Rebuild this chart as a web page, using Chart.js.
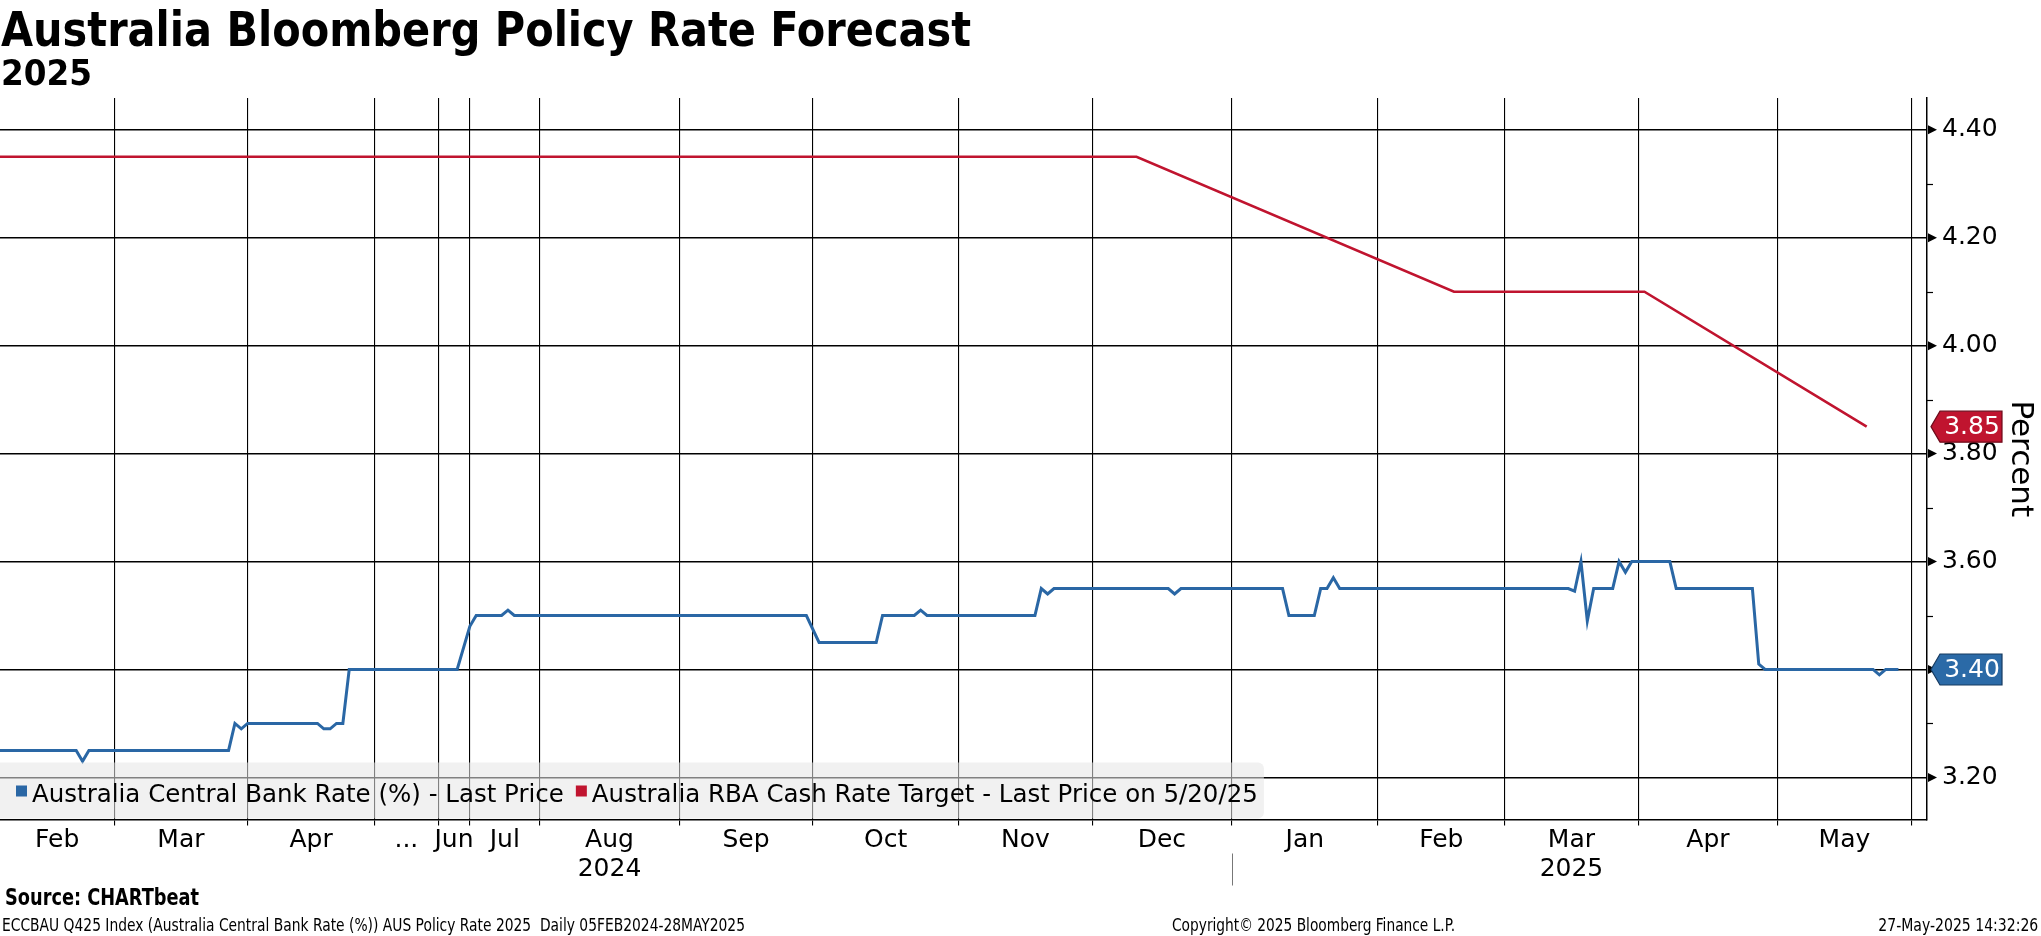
<!DOCTYPE html>
<html>
<head>
<meta charset="utf-8">
<script src="https://cdn.jsdelivr.net/npm/chart.js@4.4.1/dist/chart.umd.min.js"></script>
<style>
  html, body { margin: 0; padding: 0; background: #fff; }
  body { width: 2041px; height: 936px; position: relative; overflow: hidden; color: #000; font-family: "DejaVu Sans", sans-serif; }
  canvas { position: absolute; left: 0; top: 0; }
  .txt { position: absolute; white-space: nowrap; line-height: 1; transform-origin: left top; }
  #title { left: 1px; top: 5px; font-size: 48px; font-weight: bold; font-family: "DejaVu Sans Condensed", "DejaVu Sans", sans-serif; }
  #subtitle { left: 1px; top: 55px; font-size: 36px; font-weight: bold; font-family: "DejaVu Sans Condensed", "DejaVu Sans", sans-serif; }
  #source { left: 5px; top: 886px; font-size: 23px; font-weight: bold; font-family: "DejaVu Sans Condensed", "DejaVu Sans", sans-serif; }
  #ticker { left: 2px; top: 917px; font-size: 17px; font-family: "DejaVu Sans Condensed", "DejaVu Sans", sans-serif; }
  #copy { left: 1172px; top: 917px; font-size: 17px; font-family: "DejaVu Sans Condensed", "DejaVu Sans", sans-serif; }
  #stamp { right: 3px; top: 917px; font-size: 17px; font-family: "DejaVu Sans Condensed", "DejaVu Sans", sans-serif; transform-origin: right top; }
</style>
</head>
<body>
<canvas id="chart" width="2041" height="936"></canvas>
<div class="txt" id="title">Australia Bloomberg Policy Rate Forecast</div>
<div class="txt" id="subtitle">2025</div>
<div class="txt" id="source">Source: CHARTbeat</div>
<div class="txt" id="ticker">ECCBAU Q425 Index (Australia Central Bank Rate (%)) AUS Policy Rate 2025&nbsp; Daily 05FEB2024-28MAY2025</div>
<div class="txt" id="copy">Copyright© 2025 Bloomberg Finance L.P.</div>
<div class="txt" id="stamp">27-May-2025 14:32:26</div>
<script>
// x axis: one slot per daily observation, grouped by month
const monthLabels = ['Feb', 'Mar', 'Apr', '...', 'Jun', 'Jul', 'Aug', 'Sep', 'Oct', 'Nov', 'Dec', 'Jan', 'Feb', 'Mar', 'Apr', 'May'];
const yearLabels = ['', '', '', '', '', '', '2024', '', '', '', '', '', '', '2025', '', ''];
const monthDays = [18, 21, 20, 10, 5, 11, 22, 21, 23, 21, 22, 23, 20, 21, 22, 21];
const yTickValues = [3.2, 3.4, 3.6, 3.8, 4.0, 4.2, 4.4];

// Australia Central Bank Rate (%) - forecast, by observation slot
const cbDay = [0, 12, 13, 14, 36, 37, 38, 39, 50, 51, 52, 53, 54, 55, 72, 74, 75, 79, 80, 81,
    127, 129, 138, 139, 144, 145, 146, 163, 164, 165, 166, 184, 185, 186, 202, 203, 207, 208, 209, 210, 211,
    247, 248, 249, 250, 251, 254, 255, 256, 257, 263, 264, 276, 277, 278, 295, 296, 297, 299];
const cbRate = [3.25, 3.25, 3.23, 3.25, 3.25, 3.30, 3.29, 3.30, 3.30, 3.29, 3.29, 3.30, 3.30, 3.40, 3.40, 3.48, 3.50, 3.50, 3.51, 3.50,
    3.50, 3.45, 3.45, 3.50, 3.50, 3.51, 3.50, 3.50, 3.55, 3.54, 3.55, 3.55, 3.54, 3.55, 3.55, 3.50, 3.50, 3.55, 3.55, 3.57, 3.55,
    3.55, 3.545, 3.60, 3.49, 3.55, 3.55, 3.60, 3.58, 3.60, 3.60, 3.55, 3.55, 3.41, 3.40, 3.40, 3.39, 3.40, 3.40];

// Australia RBA Cash Rate Target
const rbaDay = [0, 179, 229, 259, 294];
const rbaRate = [4.35, 4.35, 4.10, 4.10, 3.85];

const legendLabels = ['Australia Central Bank Rate (%) - Last Price', 'Australia RBA Cash Rate Target - Last Price on 5/20/25'];

// month boundaries / centres in slot units
const monthEnds = [];
const monthMids = [];
let acc = 0;
monthDays.forEach(d => {
    monthMids.push(acc + d / 2);
    acc += d;
    monthEnds.push(acc);
});
const yearBreak = monthEnds[monthLabels.indexOf('Jan') - 1];

Chart.defaults.font.family = '"DejaVu Sans", sans-serif';
Chart.defaults.color = '#000';

const decor = {
    id: 'decor',
    afterDatasetsDraw(chart) {
        const { ctx, chartArea: a } = chart;
        ctx.save();
        ctx.font = '24.5px "DejaVu Sans"';
        // measure legend first
        let x = a.left + 16;
        const items = chart.data.datasets.map(ds => {
            const it = { x, color: ds.borderColor, label: ds.label };
            x += 16 + ctx.measureText(ds.label).width + 12;
            return it;
        });
        const boxW = x - 12 + 6;
        ctx.fillStyle = 'rgba(230,230,230,0.56)';
        ctx.beginPath();
        ctx.roundRect(a.left, a.bottom - 57, boxW, 56, [0, 6, 6, 0]);
        ctx.fill();
        const base = a.bottom - 18;
        items.forEach(it => {
            ctx.fillStyle = it.color;
            ctx.fillRect(it.x, base - 16, 11, 11);
            ctx.fillStyle = '#000';
            ctx.textBaseline = 'alphabetic';
            ctx.fillText(it.label, it.x + 16, base);
        });
        ctx.restore();
    },
    afterDraw(chart) {
        const { ctx, chartArea: a, scales } = chart;
        const ys = scales.y;
        ctx.save();
        // major tick arrows and minor ticks on the right axis
        ctx.fillStyle = '#000';
        ctx.strokeStyle = '#000';
        ctx.lineWidth = 1.2;
        yTickValues.forEach(v => {
            const y = ys.getPixelForValue(v);
            ctx.beginPath();
            ctx.moveTo(a.right + 1, y - 4.5);
            ctx.lineTo(a.right + 10, y);
            ctx.lineTo(a.right + 1, y + 4.5);
            ctx.closePath();
            ctx.fill();
            const m = v + 0.1;
            if (m < ys.max) {
                const ym = Math.round(ys.getPixelForValue(m)) + 0.5;
                ctx.beginPath();
                ctx.moveTo(a.right, ym);
                ctx.lineTo(a.right + 6, ym);
                ctx.stroke();
            }
        });
        // year separator under the x axis
        const xb = Math.round(scales.x.getPixelForValue(yearBreak)) + 0.5;
        ctx.strokeStyle = '#777';
        ctx.lineWidth = 1;
        ctx.beginPath();
        ctx.moveTo(xb, a.bottom + 34);
        ctx.lineTo(xb, a.bottom + 66);
        ctx.stroke();
        // last value tags
        chart.data.datasets.forEach(ds => {
            const last = ds.data[ds.data.length - 1];
            const y = ys.getPixelForValue(last.y);
            const x0 = a.right + 4;
            ctx.beginPath();
            ctx.moveTo(x0, y);
            ctx.lineTo(x0 + 9, y - 15.5);
            ctx.lineTo(x0 + 71, y - 15.5);
            ctx.lineTo(x0 + 71, y + 15.5);
            ctx.lineTo(x0 + 9, y + 15.5);
            ctx.closePath();
            ctx.fillStyle = ds.tagColor;
            ctx.fill();
            ctx.strokeStyle = ds.tagBorder;
            ctx.lineWidth = 1.2;
            ctx.stroke();
            ctx.fillStyle = '#fff';
            ctx.font = '25px "DejaVu Sans"';
            ctx.textAlign = 'center';
            ctx.textBaseline = 'middle';
            ctx.fillText(last.y.toFixed(2), x0 + 41, y + 1);
        });
        ctx.restore();
    }
};

new Chart(document.getElementById('chart'), {
    type: 'line',
    data: {
        datasets: [
            {
                label: legendLabels[0],
                data: cbDay.map((d, i) => ({ x: d, y: cbRate[i] })),
                borderColor: '#2a67a5',
                tagColor: '#2b6aa7',
                tagBorder: '#163a60',
                borderWidth: 3,
                pointRadius: 0,
                tension: 0
            },
            {
                label: legendLabels[1],
                data: rbaDay.map((d, i) => ({ x: d, y: rbaRate[i] })),
                borderColor: '#c0142f',
                tagColor: '#c0142f',
                tagBorder: '#6e0a1a',
                borderWidth: 2.6,
                pointRadius: 0,
                tension: 0
            }
        ]
    },
    options: {
        responsive: false,
        animation: false,
        layout: { padding: { left: 0, right: 0, top: 98, bottom: 52.5 } },
        plugins: {
            legend: { display: false },
            tooltip: { enabled: false }
        },
        scales: {
            x: {
                type: 'linear',
                min: 0,
                max: 303.5,
                afterBuildTicks: s => {
                    s.ticks = [...monthEnds, ...monthMids].sort((p, q) => p - q).map(v => ({ value: v }));
                },
                grid: {
                    color: c => monthEnds.includes(c.tick && c.tick.value) ? '#000' : 'rgba(0,0,0,0)',
                    lineWidth: 1.1,
                    drawTicks: true,
                    tickLength: 6
                },
                border: { display: true, color: '#000', width: 1.5 },
                ticks: {
                    autoSkip: false,
                    maxRotation: 0,
                    minRotation: 0,
                    padding: 0,
                    font: { size: 25, lineHeight: 1.16 },
                    callback: v => {
                        const i = monthMids.indexOf(v);
                        if (i < 0) return '';
                        return yearLabels[i] ? [monthLabels[i], yearLabels[i]] : monthLabels[i];
                    }
                }
            },
            y: {
                type: 'linear',
                position: 'right',
                min: 3.122,
                max: 4.459,
                afterBuildTicks: s => { s.ticks = yTickValues.map(v => ({ value: v })); },
                afterFit: s => { s.width = 114; },
                grid: { color: '#000', lineWidth: 1.5, drawTicks: false },
                border: { display: true, color: '#000', width: 1.5 },
                ticks: { padding: 15, font: { size: 25 }, callback: v => v.toFixed(2) },
                title: { display: true, text: 'Percent', font: { size: 31 }, padding: { top: 2, bottom: 0 } }
            }
        }
    },
    plugins: [decor]
});

// squeeze header/footer text to the widths of the original
function fitWidth(id, target) {
    const el = document.getElementById(id);
    const w = el.getBoundingClientRect().width;
    el.style.transform = 'scaleX(' + (target / w) + ')';
}
fitWidth('title', 970);
fitWidth('subtitle', 91);
fitWidth('source', 194);
fitWidth('ticker', 743);
fitWidth('copy', 283);
fitWidth('stamp', 160);
</script>
</body>
</html>
